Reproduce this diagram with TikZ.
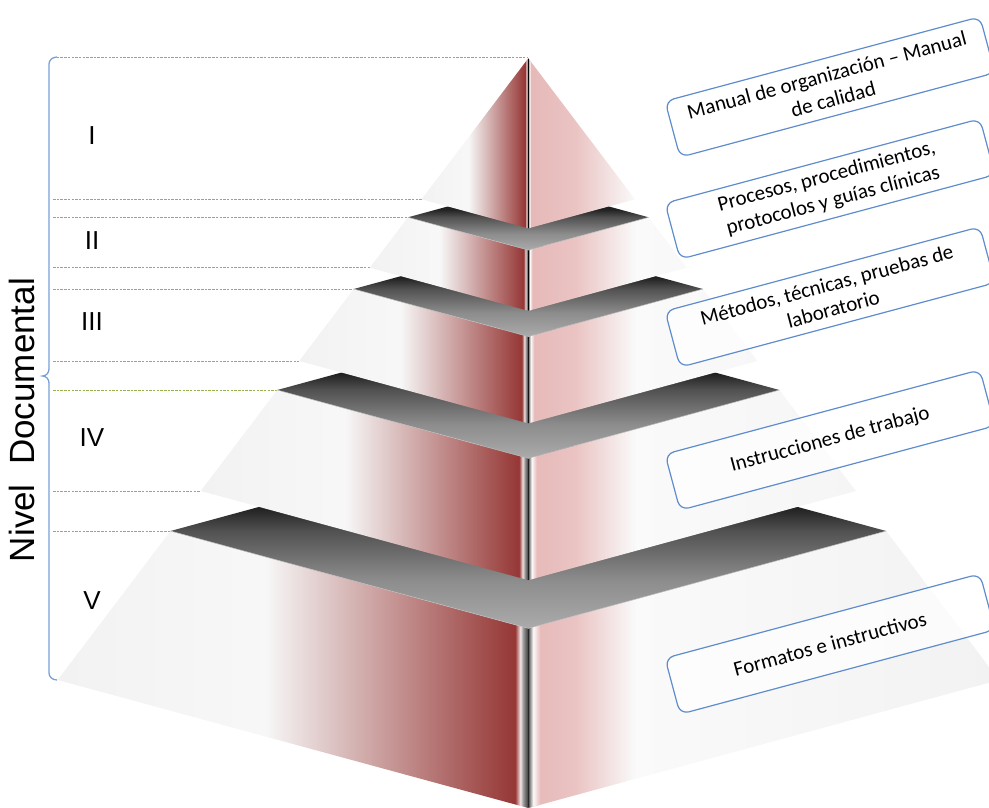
\documentclass[tikz,border=0pt]{standalone}
\usepackage{fontspec}
\setmainfont{Carlito}
\newfontfamily\arialfont{Liberation Sans}
\definecolor{pyrred}{RGB}{149,55,53}
\definecolor{pyrpink}{RGB}{230,185,184}
\definecolor{pyrwhite}{RGB}{242,242,242}
\definecolor{boxblue}{RGB}{95,140,205}
\definecolor{levelgreen}{RGB}{150,178,80}
\definecolor{bracketblue}{RGB}{120,160,215}
\pgfdeclarehorizontalshading{leftface}{100bp}{color(0bp)=(pyrwhite); color(25bp)=(pyrwhite); color(47bp)=(white!97!black); color(73.6bp)=(pyrred); color(74.15bp)=(pyrred!12!white); color(74.45bp)=(black!40); color(75bp)=(black!78); color(100bp)=(black!78)}
\pgfdeclarehorizontalshading{rightface}{100bp}{color(0bp)=(pyrpink); color(25bp)=(pyrpink); color(30bp)=(pyrpink!85!white); color(36.4bp)=(white!98!black); color(75bp)=(pyrwhite); color(100bp)=(pyrwhite)}
\pgfdeclarehorizontalshading{rightedge}{100bp}{color(0bp)=(black!78); color(25bp)=(black!78); color(30bp)=(black!50); color(45bp)=(pyrpink!8!white); color(75bp)=(pyrpink); color(100bp)=(pyrpink)}
\pgfdeclareverticalshading{topface}{100bp}{color(0bp)=(black!33); color(25bp)=(black!33); color(37.5bp)=(black!45); color(50bp)=(black!68); color(56bp)=(black!87); color(75bp)=(black!90); color(100bp)=(black!90)}
\begin{document}
\begin{tikzpicture}[x=1pt,y=-1pt,
    levelline/.style={levelgreen,line width=1pt,dash pattern=on 2.5pt off 1.2pt},
    bracket/.style={bracketblue,line width=1.3pt},
    levelnum/.style={font=\arialfont\fontsize{26}{30}\selectfont},
    labelbox/.style={draw=boxblue,line width=1.2pt,rounded corners=9pt,fill=white,fill opacity=0.7,text opacity=1,
        minimum width=326pt,minimum height=58pt,align=center,rotate=15,inner sep=2pt,
        font=\fontsize{21}{25}\selectfont}]
    \useasboundingbox (0,0) rectangle (989,807);
    \def\cx{528.3}
    \def\ax{58.3}
    \coordinate (top) at (53,57.3);
    \coordinate (apex) at (\cx,57.3);
    \draw[levelline] (top) -- (apex);
    \foreach \y [count=\i] in {199.3,217.3,267.7,289,361,390,491,531} {
        \coordinate (s\i) at (53,\y);
        \coordinate (e\i) at ({\cx-0.757*(\y-\ax)},\y);
        \draw[levelline] (s\i) -- (e\i);
      }
    \foreach \t/\b in {531/680,390/491,289/361,217.3/267.7,58.3/199.3} {
        \pgfmathsetmacro\wt{0.757*(\t-\ax)}
        \pgfmathsetmacro\wb{0.757*(\b-\ax)}
        \coordinate (TL) at ({\cx-\wt},\t);
        \coordinate (TF) at (\cx,{\t+0.272*\wt});
        \coordinate (TR) at ({\cx+\wt},\t);
        \coordinate (TB) at (\cx,{\t-0.272*\wt});
        \coordinate (BL) at ({\cx-\wb},\b);
        \coordinate (BF) at (\cx,{\b+0.272*\wb});
        \coordinate (BR) at ({\cx+\wb},\b);
        \shade[shading=leftface] (TL) -- (TF) -- (BF) -- (BL) -- cycle;
        \begin{scope}
          \clip (TF) -- (TR) -- (BR) -- (BF) -- cycle;
          \shade[shading=rightface] (\cx,{\t-150}) rectangle (998.9,{\b+130});
          \shade[shading=rightedge] (\cx,{\t-150}) rectangle ({\cx+0.026*\wb},{\b+130});
        \end{scope}
        \ifdim\wt pt>1pt
          \shade[shading=topface] (TL) -- (TB) -- (TR) -- (TF) -- cycle;
          \draw[white!75!black,line width=0.5pt] (TL) -- (TF) -- (TR);
        \fi
      }
    \draw[bracket] (57,57) to[out=180,in=90] (49,64) -- (49,369) to[out=-90,in=0] (42.5,376)
        to[out=0,in=90] (49,383) -- (49,673) to[out=-90,in=180] (57,680);
    \node[rotate=90,font=\arialfont\fontsize{35}{40}\selectfont] (nivel) at (22,420) {Nivel\ \ Documental};
    \node[levelnum] (n1) at (92,136) {I};
    \node[levelnum] (n2) at (92,241) {II};
    \node[levelnum] (n3) at (92,322) {III};
    \node[levelnum] (n4) at (92,438) {IV};
    \node[levelnum] (n5) at (92,601) {V};
    \node[labelbox] (b1) at (830,87) {Manual de organización – Manual\\de calidad};
    \node[labelbox] (b2) at (830,189) {Procesos, procedimientos,\\protocolos y guías clínicas};
    \node[labelbox] (b3) at (830,297) {Métodos, técnicas, pruebas de\\laboratorio};
    \node[labelbox] (b4) at (830,440) {Instrucciones de trabajo};
    \node[labelbox] (b5) at (830,644) {Formatos e instructivos};
\end{tikzpicture}
\end{document}
